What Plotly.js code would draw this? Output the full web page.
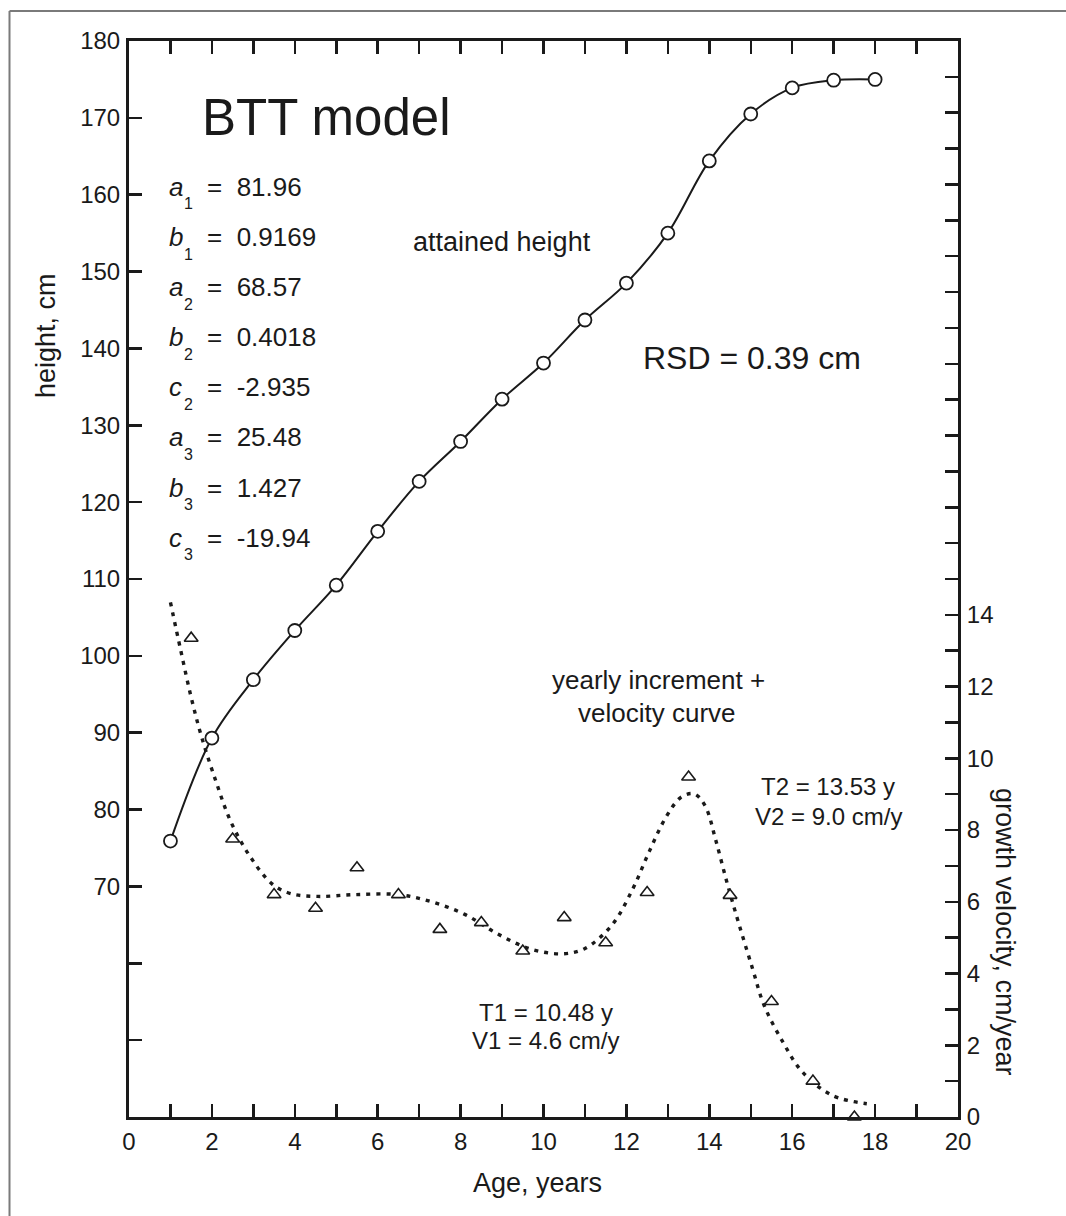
<!DOCTYPE html>
<html>
<head>
<meta charset="utf-8">
<script src="https://cdn.plot.ly/plotly-3.0.1.min.js"></script>
<style>html,body{margin:0;padding:0;background:#fff}</style>
</head>
<body>
<div id="chart" style="width:1066px;height:1216px"></div>
<script>
// ---- data ----
const ages = [1,2,3,4,5,6,7,8,9,10,11,12,13,14,15,16,17,18];
const heights = [75.9,89.3,96.9,103.3,109.2,116.2,122.7,127.9,133.4,138.1,143.7,148.5,155.0,164.4,170.5,173.9,174.9,175.0];

const incrementAges = [1.5,2.5,3.5,4.5,5.5,6.5,7.5,8.5,9.5,10.5,11.5,12.5,13.5,14.5,15.5,16.5,17.5];
const increments = [13.35,7.75,6.2,5.82,6.95,6.2,5.23,5.42,4.63,5.56,4.86,6.26,9.48,6.18,3.22,1.0,0.0];

const velocityAges = [1.0,1.25,1.5,1.75,2.1,2.45,2.9,3.45,3.9,4.55,5.45,6.5,7.3,8.1,8.9,9.7,10.45,11.0,11.65,12.15,12.55,12.95,13.3,13.55,13.7,13.92,14.16,14.44,14.72,15.04,15.32,15.77,16.25,16.97,17.8];
const velocity = [14.35,13.0,11.7,10.6,9.35,8.25,7.3,6.5,6.23,6.15,6.2,6.2,6.0,5.65,5.1,4.68,4.55,4.7,5.35,6.35,7.4,8.35,8.9,9.02,8.97,8.63,7.7,6.48,5.36,4.15,3.12,2.1,1.25,0.6,0.37];

const xTickVals = [0,1,2,3,4,5,6,7,8,9,10,11,12,13,14,15,16,17,18,19,20];
const xTickText = ['0','','2','','4','','6','','8','','10','','12','','14','','16','','18','','20'];
const hTickVals = [40,50,60,70,80,90,100,110,120,130,140,150,160,170,180];
const hTickText = ['','','','70','80','90','100','110','120','130','140','150','160','170','180'];
const vTickVals = [0,1,2,3,4,5,6,7,8,9,10,11,12,13,14,15,16,17,18,19,20,21,22,23,24,25,26,27,28,29,30];
const vTickText = ['0','','2','','4','','6','','8','','10','','12','','14','','','','','','','','','','','','','','','',''];

const params = [
  ['a','1','81.96'],['b','1','0.9169'],['a','2','68.57'],['b','2','0.4018'],
  ['c','2','-2.935'],['a','3','25.48'],['b','3','1.427'],['c','3','-19.94']
];

// ---- layout geometry (pixels) ----
const W = 1066, H = 1216;
const L = 129, R = 958, T = 41, B = 1117;
const PX = v => (v - L) / (R - L);
const PY = v => (B - v) / (B - T);

const FONT = 'Liberation Sans, Arial, Helvetica, sans-serif';
const INK = '#1a1a1a';

const traces = [
  {
    x: ages, y: heights, xaxis: 'x', yaxis: 'y',
    mode: 'lines+markers', type: 'scatter',
    line: {color: INK, width: 2, shape: 'spline', smoothing: 1},
    marker: {symbol: 'circle', size: 13, color: '#fff', line: {color: INK, width: 1.8}},
    cliponaxis: false, hoverinfo: 'skip'
  },
  {
    x: velocityAges, y: velocity, xaxis: 'x', yaxis: 'y2',
    mode: 'lines', type: 'scatter',
    line: {color: INK, width: 3.4, shape: 'spline', smoothing: 1, dash: '4px,6px'},
    hoverinfo: 'skip'
  },
  {
    x: incrementAges, y: increments, xaxis: 'x', yaxis: 'y2',
    mode: 'markers', type: 'scatter',
    marker: {symbol: 'triangle-up', size: 12, color: '#fff', line: {color: INK, width: 1.6}},
    cliponaxis: false, hoverinfo: 'skip'
  }
];

const annotations = [];
function txt(text, x, y, size, opts) {
  annotations.push(Object.assign({
    text: text, xref: 'paper', yref: 'paper', x: PX(x), y: PY(y),
    xanchor: 'center', yanchor: 'middle', showarrow: false,
    font: {family: FONT, size: size, color: INK}
  }, opts || {}));
}

txt('BTT model', 200, 117, 51, {xanchor: 'left'});
params.forEach((p, i) => {
  const yc = 187 + i * 50.1;
  txt('<i>' + p[0] + '</i>', 167, yc, 26, {xanchor: 'left'});
  txt(p[1], 182, yc + 17, 16, {xanchor: 'left'});
  txt('=\u00a0\u00a0' + p[2], 205, yc, 26, {xanchor: 'left'});
});
txt('attained height', 502, 242, 27);
txt('RSD = 0.39 cm', 752, 358, 32);
txt('yearly increment +', 658, 680, 26);
txt('velocity curve', 657, 713, 26);
txt('T2 = 13.53 y', 828, 786, 24);
txt('V2 = 9.0 cm/y', 828, 816, 24);
txt('T1 = 10.48 y', 546, 1012, 24);
txt('V1 = 4.6 cm/y', 545, 1040, 24);
txt('height, cm', 46, 336, 27, {textangle: -90});
txt('Age, years', 537, 1183, 27);
txt('growth velocity, cm/year', 1005, 932, 27, {textangle: 90});

const shapes = [
  {type: 'line', xref: 'paper', yref: 'paper', x0: PX(9.5), x1: PX(9.5), y0: PY(11), y1: PY(1216), line: {color: '#7a7a7a', width: 2}},
  {type: 'line', xref: 'paper', yref: 'paper', x0: PX(9.5), x1: PX(1066), y0: PY(11), y1: PY(11), line: {color: '#7a7a7a', width: 2}}
];

const axisCommon = {
  showgrid: false, zeroline: false, showline: true, linecolor: INK, linewidth: 3,
  ticks: 'inside', ticklen: 13, tickwidth: 2.5, tickcolor: INK,
  tickfont: {family: FONT, size: 24, color: INK}, tickmode: 'array', fixedrange: true
};

const layout = {
  width: W, height: H,
  margin: {l: L, r: W - R, t: T, b: H - B, pad: 0},
  paper_bgcolor: '#fff', plot_bgcolor: '#fff',
  showlegend: false,
  xaxis: Object.assign({}, axisCommon, {
    range: [0, 20], tickvals: xTickVals, ticktext: xTickText, mirror: 'ticks', ticklabelstandoff: 1
  }),
  yaxis: Object.assign({}, axisCommon, {
    range: [40, 180], tickvals: hTickVals, ticktext: hTickText, mirror: false, ticklabelstandoff: 1
  }),
  yaxis2: Object.assign({}, axisCommon, {
    range: [0, 30], tickvals: vTickVals, ticktext: vTickText, overlaying: 'y', side: 'right',
    anchor: 'x', ticklabelstandoff: 1
  }),
  annotations: annotations,
  shapes: shapes
};

Plotly.newPlot('chart', traces, layout, {displayModeBar: false, staticPlot: true});
</script>
</body>
</html>
